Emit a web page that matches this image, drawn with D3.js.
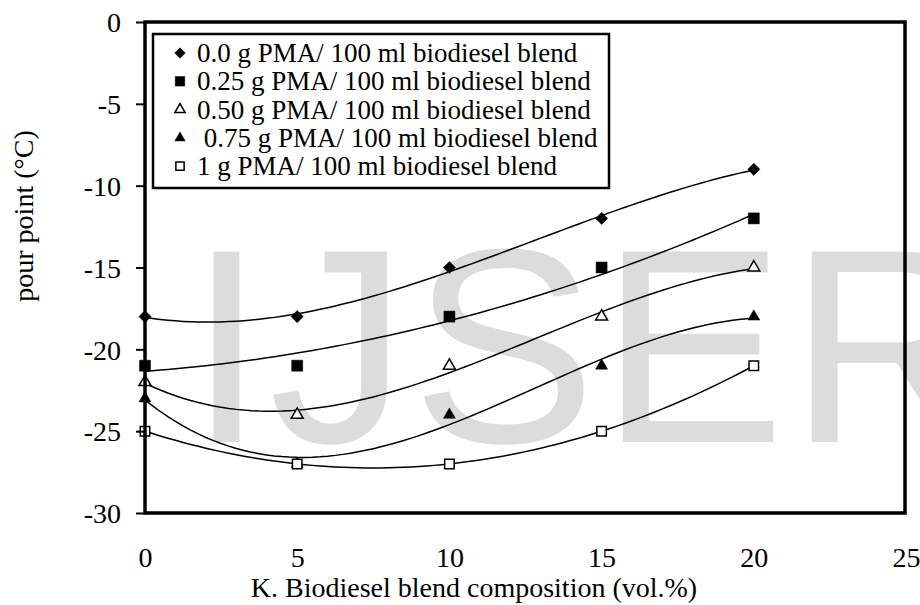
<!DOCTYPE html>
<html lang="en">
<head>
<meta charset="utf-8">
<title>Pour point vs biodiesel blend</title>
<script src="https://cdn.jsdelivr.net/npm/d3@7"></script>
<style>
	body { margin: 0; background: #fff; }
	text { font-family: "Liberation Serif", "Times New Roman", serif; fill: #000; }
</style>
</head>
<body>
<script>
// blend composition (vol.%) at which pour point was measured
var blendPct = [0, 5, 10, 15, 20];

// pour point (deg C) for each PMA dose
var pma000 = [-18, -18, -15, -12, -9];
var pma025 = [-21, -21, -18, -15, -12];
var pma050 = [-22, -24, -21, -18, -15];
var pma075 = [-23, -27, -24, -21, -18];
var pma100 = [-25, -27, -27, -25, -21];

var seriesNames = [
	"0.0 g PMA/ 100 ml biodiesel blend",
	"0.25 g PMA/ 100 ml biodiesel blend",
	"0.50 g PMA/ 100 ml biodiesel blend",
	" 0.75 g PMA/ 100 ml biodiesel blend",
	"1 g PMA/ 100 ml biodiesel blend"
];
// polynomial order of each trendline
var trendOrder = [3, 2, 3, 3, 2];

var xTicks = [0, 5, 10, 15, 20, 25];
var yTicks = [0, -5, -10, -15, -20, -25, -30];

var allSeries = [pma000, pma025, pma050, pma075, pma100];

var w = 920, h = 605;
var plotL = 145, plotR = 905, plotT = 22, plotB = 513;

var svg = d3.select("body").append("svg")
	.attr("width", w)
	.attr("height", h);

var x = d3.scaleLinear().domain([0, 25]).range([plotL, plotR + 1]);
var y = d3.scaleLinear().domain([-30, 0]).range([plotB, plotT]);

// watermark
svg.append("text")
	.text("IJSER")
	.attr("x", 188)
	.attr("y", 442)
	.attr("font-size", "277px")
	.attr("letter-spacing", "4px")
	.style("font-family", "'Liberation Sans', Arial, sans-serif")
	.style("fill", "#dcdcdc");

// least squares polynomial fit, like a spreadsheet trendline
function polyfit(xs, ys, n){
	var m = n + 1, A = [], b = [];
	for(var i = 0; i < m; i++){
		A.push([]);
		for(var j = 0; j < m; j++){
			A[i].push(d3.sum(xs, function(v){ return Math.pow(v, i + j); }));
		}
		b.push(d3.sum(xs, function(v, k){ return ys[k] * Math.pow(v, i); }));
	}
	for(var c = 0; c < m; c++){
		var p = c;
		for(var r = c + 1; r < m; r++) if(Math.abs(A[r][c]) > Math.abs(A[p][c])) p = r;
		var t = A[c]; A[c] = A[p]; A[p] = t;
		t = b[c]; b[c] = b[p]; b[p] = t;
		for(var r = c + 1; r < m; r++){
			var f = A[r][c] / A[c][c];
			for(var k = c; k < m; k++) A[r][k] -= f * A[c][k];
			b[r] -= f * b[c];
		}
	}
	var coef = new Array(m);
	for(var r = m - 1; r >= 0; r--){
		var s = b[r];
		for(var k = r + 1; k < m; k++) s -= A[r][k] * coef[k];
		coef[r] = s / A[r][r];
	}
	return function(v){
		return d3.sum(coef, function(cf, i){ return cf * Math.pow(v, i); });
	};
}

var line = d3.line()
	.x(function(d){ return x(d[0]); })
	.y(function(d){ return y(d[1]); });

var xs = d3.range(0, 20.01, 0.25);
allSeries.forEach(function(vals, i){
	var fn = polyfit(blendPct, vals, trendOrder[i]);
	svg.append("path")
		.attr("d", line(xs.map(function(v){ return [v, fn(v)]; })))
		.attr("fill", "none")
		.attr("stroke", "#000")
		.attr("stroke-width", 1.5);
});

// marker styles per series
var markers = [
	{type: d3.symbolSquare, size: 74, rot: 45, fill: "#000"},
	{type: d3.symbolSquare, size: 121, rot: 0, fill: "#000"},
	{type: d3.symbolTriangle, size: 62, rot: 0, fill: "#fff"},
	{type: d3.symbolTriangle, size: 62, rot: 0, fill: "#000"},
	{type: d3.symbolSquare, size: 90, rot: 0, fill: "#fff"}
];

function drawMarker(g, mk, scale){
	return g.append("path")
		.attr("d", d3.symbol().type(mk.type).size(mk.size * (scale || 1))())
		.attr("fill", mk.fill)
		.attr("stroke", "#000")
		.attr("stroke-width", mk.fill === "#fff" ? 1.5 : 0.5);
}

allSeries.forEach(function(vals, i){
	vals.forEach(function(v, k){
		drawMarker(svg, markers[i])
			.attr("transform", "translate(" + x(blendPct[k]) + "," + y(v) + ") rotate(" + markers[i].rot + ")");
	});
});

// frame
svg.append("rect")
	.attr("x", plotL)
	.attr("y", plotT)
	.attr("width", plotR - plotL)
	.attr("height", plotB - plotT)
	.attr("fill", "none")
	.attr("stroke", "#000")
	.attr("stroke-width", 3.5);

// y axis
var yAxis = svg.append("g")
	.attr("transform", "translate(" + plotL + ",0)")
	.call(d3.axisLeft(y).tickValues(yTicks).tickSize(9).tickPadding(15)
		.tickFormat(function(d){ return String(d); }))
	.attr("font-family", null)
	.attr("font-size", null);
yAxis.select(".domain").remove();
yAxis.selectAll("line").attr("stroke", "#000").attr("stroke-width", 2);
yAxis.selectAll("text").attr("font-size", "28px").attr("dy", "0.35em");

// x axis
var xAxis = svg.append("g")
	.attr("transform", "translate(0," + plotB + ")")
	.call(d3.axisBottom(x).tickValues(xTicks).tickSize(0).tickPadding(54)
		.tickFormat(function(d){ return String(d); }))
	.attr("font-family", null)
	.attr("font-size", null);
xAxis.select(".domain").remove();
xAxis.selectAll("text").attr("font-size", "28px").attr("dy", "0");

svg.append("text")
	.text("K. Biodiesel blend composition (vol.%)")
	.attr("x", 474)
	.attr("y", 597)
	.attr("text-anchor", "middle")
	.attr("font-size", "28px");

svg.append("text")
	.text("pour point (°C)")
	.attr("transform", "translate(33,216) rotate(-90)")
	.attr("text-anchor", "middle")
	.attr("font-size", "28px");

// legend
var legend = svg.append("g");
legend.append("rect")
	.attr("x", 153)
	.attr("y", 34)
	.attr("width", 456)
	.attr("height", 154)
	.attr("fill", "#fff")
	.attr("stroke", "#000")
	.attr("stroke-width", 2.5);

seriesNames.forEach(function(name, i){
	var ly = 62 + i * 28.3;
	drawMarker(legend, markers[i], 0.75)
		.attr("transform", "translate(180," + (ly - 9) + ") rotate(" + markers[i].rot + ")");
	legend.append("text")
		.text(name)
		.attr("x", 197)
		.attr("y", ly)
		.attr("font-size", "27px")
		.style("white-space", "pre");
});
</script>
</body>
</html>
